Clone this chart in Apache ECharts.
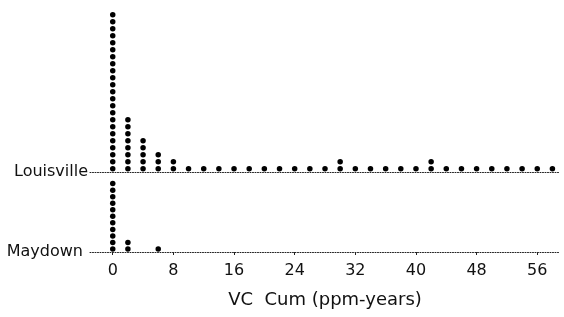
<!DOCTYPE html>
<html>
<head>
<meta charset="utf-8">
<script src="https://cdn.jsdelivr.net/npm/echarts@6/dist/echarts.min.js"></script>
<style>
html,body{margin:0;padding:0;background:#fff;}
#chart{width:564px;height:317px;}
</style>
</head>
<body>
<div id="chart"></div>
<script>
// Bin centres (ppm-years) and number of stacked dots per bin
const binCenters = [0, 2, 4, 6, 8, 10, 12, 14, 16, 18, 20, 22, 24, 26, 28, 30, 32, 34, 36, 38, 40, 42, 44, 46, 48, 50, 52, 54, 56, 58];
const louisvilleCounts = [23, 8, 5, 3, 2, 1, 1, 1, 1, 1, 1, 1, 1, 1, 1, 2, 1, 1, 1, 1, 1, 2, 1, 1, 1, 1, 1, 1, 1, 1];
const maydownCounts =    [11, 2, 0, 1, 0, 0, 0, 0, 0, 0, 0, 0, 0, 0, 0, 0, 0, 0, 0, 0, 0, 0, 0, 0, 0, 0, 0, 0, 0, 0];
const xTicks = [0, 8, 16, 24, 32, 40, 48, 56];
const groups = ['Louisville', 'Maydown'];
const xName = 'VC  Cum (ppm-years)';

function stackDots(counts) {
  const pts = [];
  counts.forEach((c, i) => {
    for (let k = 0; k < c; k++) pts.push([binCenters[i], k + 0.45]);
  });
  return pts;
}

const FONT = 'DejaVu Sans';
const dotted = { color: '#222', width: 1, type: [1, 1.5] };

const chart = echarts.init(document.getElementById('chart'));
chart.setOption({
  animation: false,
  backgroundColor: '#fff',
  grid: [
    { left: 90, right: 4, top: 4, bottom: 145 },
    { left: 90, right: 4, top: 180, bottom: 65 }
  ],
  xAxis: [
    {
      gridIndex: 0, type: 'value', min: -3, max: 59,
      axisLine: { show: true, lineStyle: dotted },
      axisTick: { show: false }, axisLabel: { show: false }, splitLine: { show: false }
    },
    {
      gridIndex: 1, type: 'value', min: -3, max: 59,
      axisLine: { show: true, lineStyle: dotted },
      axisTick: { show: true, length: 3, customValues: xTicks, lineStyle: { color: '#222' } },
      axisLabel: { show: true, customValues: xTicks, margin: 11, fontFamily: FONT, fontSize: 16, color: '#111' },
      splitLine: { show: false },
      name: xName, nameLocation: 'middle', nameGap: 39,
      nameTextStyle: { fontFamily: FONT, fontSize: 18, color: '#111' }
    }
  ],
  yAxis: [
    {
      gridIndex: 0, type: 'value', min: 0, max: 24,
      axisLine: { show: false }, axisTick: { show: false }, splitLine: { show: false },
      axisLabel: { margin: 2, fontFamily: FONT, fontSize: 16, color: '#111',
        formatter: v => (v === 0 ? groups[0] : '') }
    },
    {
      gridIndex: 1, type: 'value', min: 0, max: 11,
      axisLine: { show: false }, axisTick: { show: false }, splitLine: { show: false },
      axisLabel: { margin: 7, fontFamily: FONT, fontSize: 16, color: '#111',
        formatter: v => (v === 0 ? groups[1] : '') }
    }
  ],
  series: [
    {
      name: groups[0], type: 'scatter', xAxisIndex: 0, yAxisIndex: 0,
      symbol: 'circle', symbolSize: 5.5, itemStyle: { color: '#000', opacity: 1 },
      data: stackDots(louisvilleCounts)
    },
    {
      name: groups[1], type: 'scatter', xAxisIndex: 1, yAxisIndex: 1,
      symbol: 'circle', symbolSize: 5.5, itemStyle: { color: '#000', opacity: 1 },
      data: stackDots(maydownCounts)
    }
  ]
});
</script>
</body>
</html>
